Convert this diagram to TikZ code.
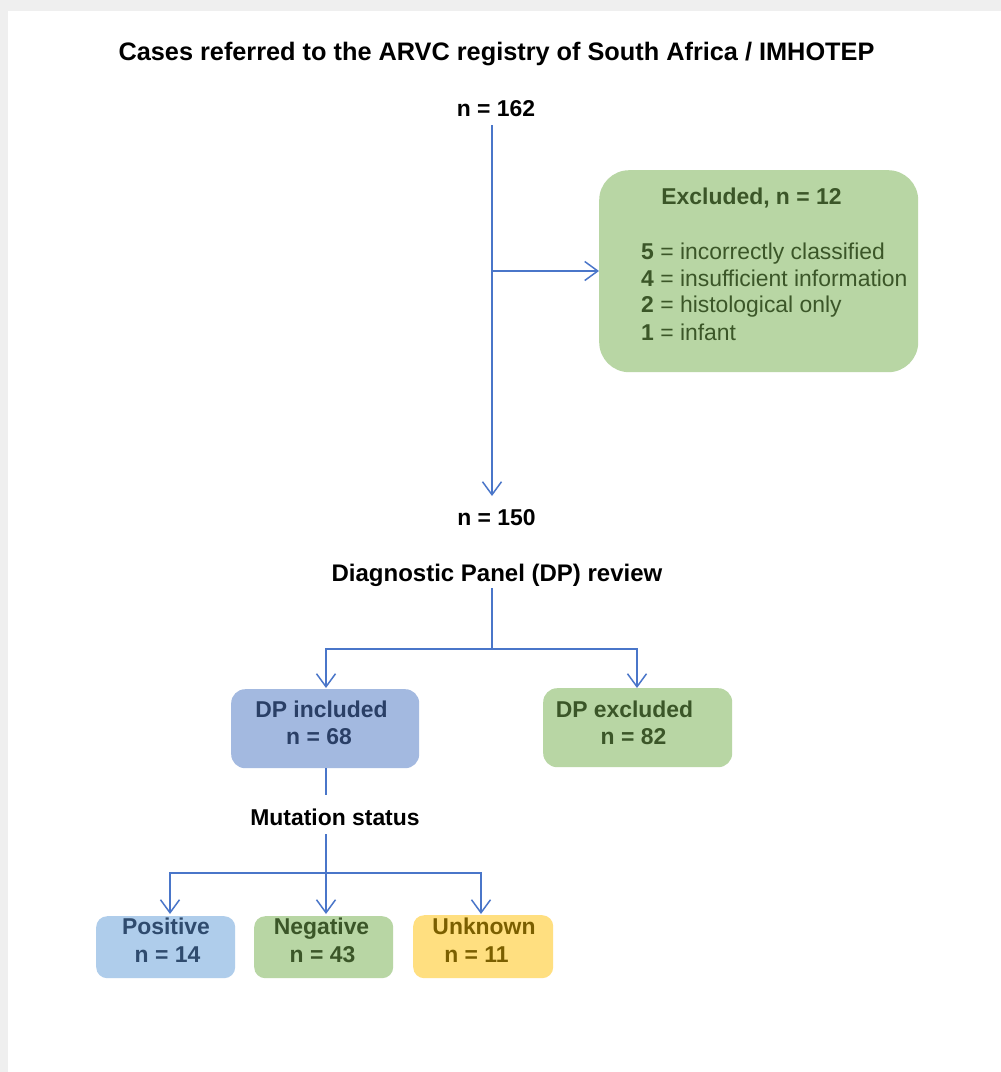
\documentclass[tikz,border=0pt]{standalone}
\usepackage{fontspec}
\setmainfont{Liberation Sans}
\usetikzlibrary{arrows.meta}
\definecolor{lineblue}{HTML}{4A76C9}
\definecolor{gfill}{HTML}{B8D6A4}
\definecolor{gtext}{HTML}{3B5628}
\definecolor{bfill}{HTML}{A3B9E0}
\definecolor{btext}{HTML}{2A3F66}
\definecolor{lbfill}{HTML}{AFCDEB}
\definecolor{lbtext}{HTML}{2F4B6E}
\definecolor{yfill}{HTML}{FFDF80}
\definecolor{ytext}{HTML}{7B5F00}
\definecolor{framegray}{HTML}{EFEFEF}
\begin{document}
\begin{tikzpicture}[x=1pt,y=-1pt,
  conn/.style={draw=lineblue, line width=1.5pt},
  arr/.style={conn, -{Straight Barb[length=13pt,width=19pt,line width=1.5pt]}},
  txt/.style={font=\fontsize{22.9}{27}\selectfont, inner sep=0pt, anchor=base},
  lbl/.style={txt, font=\fontsize{22.9}{27}\selectfont\bfseries},
  box/.style={anchor=north west, inner sep=0pt, rounded corners=#1},
  box/.default=14pt]
% frame / background
\fill[framegray] (0,0) rectangle (1001,1072);
\fill[white] (8,11) rectangle (1001,1072);
\useasboundingbox (0,0) rectangle (1001,1072);

% title and counts
\node[lbl, font=\fontsize{25.3}{30}\selectfont\bfseries] (title) at (496.5,60) {Cases referred to the ARVC registry of South Africa / IMHOTEP};
\node[lbl] (n162) at (496,116) {n = 162};
\node[lbl] (n150) at (496.5,525) {n = 150};
\node[lbl, font=\fontsize{24}{28}\selectfont\bfseries] (dpr) at (497,581) {Diagnostic Panel (DP) review};
\node[lbl] (mut) at (335,825) {Mutation status};

% excluded box
\node[box=30pt, fill=gfill, minimum width=319pt, minimum height=202pt] (exc) at (599,170) {};
\node[lbl, text=gtext] (exch) at (751.5,204) {Excluded, n = 12};
\begin{scope}[every node/.style={txt, anchor=base west, text=gtext}]
\node (e1) at (641,259) {\textbf{5} = incorrectly classified};
\node (e2) at (641,286) {\textbf{4} = insufficient information};
\node (e3) at (641,312) {\textbf{2} = histological only};
\node (e4) at (641,340) {\textbf{1} = infant};
\end{scope}

% DP boxes
\node[box, fill=bfill, minimum width=188pt, minimum height=79pt] (dpinc) at (231,689) {};
\node[lbl, text=btext] (dpinct) at (321.5,717) {DP included};
\node[lbl, text=btext] (dpincn) at (319,744) {n = 68};
\node[box, fill=gfill, minimum width=189pt, minimum height=79pt] (dpexc) at (543,688) {};
\node[lbl, text=gtext] (dpexct) at (624.5,717) {DP excluded};
\node[lbl, text=gtext] (dpexcn) at (633.5,744) {n = 82};

% mutation boxes
\node[box=11pt, fill=lbfill, minimum width=139pt, minimum height=62pt] (pos) at (96,916) {};
\node[lbl, text=lbtext] (post) at (166,934) {Positive};
\node[lbl, text=lbtext] (posn) at (167.5,962) {n = 14};
\node[box=11pt, fill=gfill, minimum width=139pt, minimum height=62pt] (neg) at (254,916) {};
\node[lbl, text=gtext] (negt) at (321.5,934) {Negative};
\node[lbl, text=gtext] (negn) at (322.5,962) {n = 43};
\node[box=11pt, fill=yfill, minimum width=140pt, minimum height=63pt] (unk) at (413,915) {};
\node[lbl, text=ytext] (unkt) at (484,934) {Unknown};
\node[lbl, text=ytext] (unkn) at (476.5,962) {n = 11};

% connectors
\coordinate (a1) at (492,125);
\coordinate (a2) at (492,496);
\coordinate (br) at (492,271);
\draw[arr] (a1) -- (a2);
\draw[arr] (br) -- (br -| exc.west);

\coordinate (d1) at (492,588);
\coordinate (d2) at (492,649);
\coordinate (dl) at (326,688);
\coordinate (dr) at (637,688);
\draw[conn] (d1) -- (d2);
\draw[arr] (d2) -| (dl);
\draw[arr] (d2) -| (dr);

\coordinate (m1) at (326,795);
\draw[conn] (dpinc.south -| m1) -- (m1);
\coordinate (m2) at (326,834);
\coordinate (m3) at (326,873);
\coordinate (p1) at (170,914);
\coordinate (p2) at (326,914);
\coordinate (p3) at (481,914);
\draw[conn] (m2) -- (m3);
\draw[arr] (m3) -| (p1);
\draw[arr] (m3) -- (p2);
\draw[arr] (m3) -| (p3);
\end{tikzpicture}
\end{document}
